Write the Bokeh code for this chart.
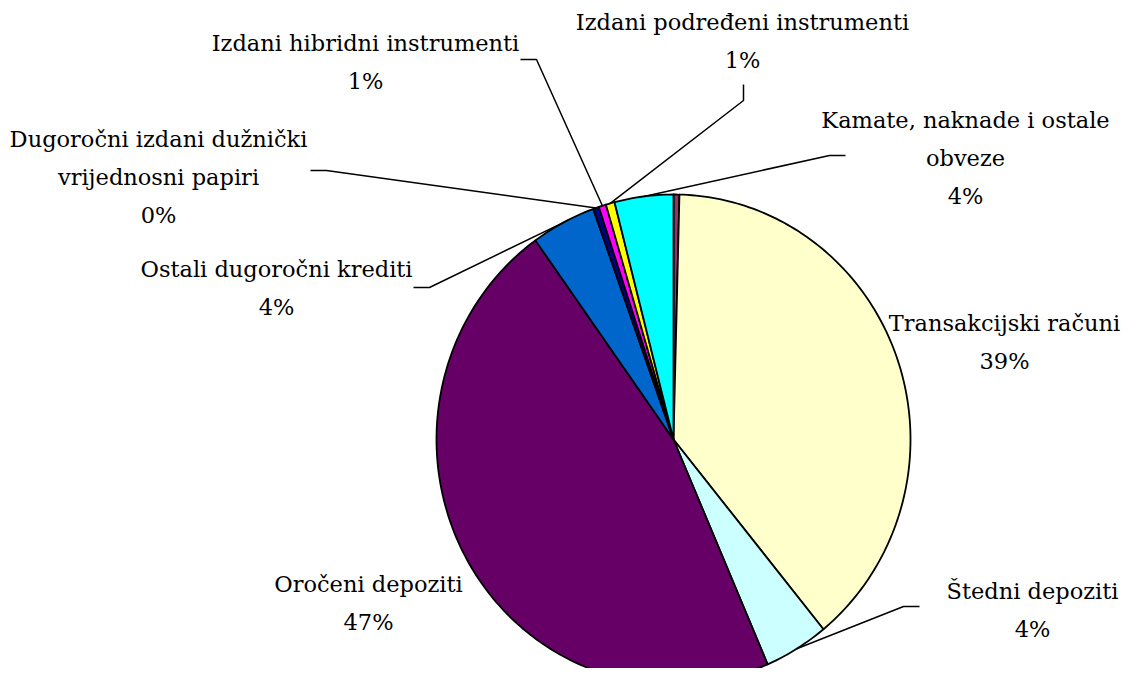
import numpy as np
from bokeh.plotting import figure
from bokeh.models import Range1d, ColumnDataSource
from bokeh.embed import file_html
from bokeh.resources import INLINE
from bokeh.core.properties import value

# ---- data ----
categories = ["",
              "Transakcijski računi",
              "Štedni depoziti",
              "Oročeni depoziti",
              "Ostali dugoročni krediti",
              "Dugoročni izdani dužnički\nvrijednosni papiri",
              "Izdani hibridni instrumenti",
              "Izdani podređeni instrumenti",
              "Kamate, naknade i ostale\nobveze"]
shares = [0.4, 38.7, 4.4, 46.6, 4.4, 0.4, 0.5, 0.6, 4.0]
pct_labels = ["", "39%", "4%", "47%", "4%", "0%", "1%", "1%", "4%"]
colors = ["#993366", "#FFFFCC", "#CCFFFF", "#660066", "#0066CC",
          "#000080", "#FF00FF", "#FFFF00", "#00FFFF"]

# ---- layout (page pixel coordinates, y downward) ----
CX, CY, RX, RY = 673.0, 439.0, 237.0, 245.0
FONT = "DejaVu Serif"
FS = "22.5px"
LINE_H = 38
# label anchor: (center x, first line middle y)
label_pos = {1: (1004, 322), 2: (1032, 590), 3: (368, 583), 4: (276, 268),
             5: (158, 138), 6: (365, 42), 7: (742, 21), 8: (965, 119)}
# leader lines: label-side start and knee points
leader_pts = {2: [(919, 606), (903, 606)],
              4: [(413, 287), (429, 287)],
              5: [(310, 170), (326, 170)],
              6: [(520, 59), (536, 59)],
              7: [(743, 84), (743, 100)],
              8: [(845, 155), (829, 155)]}

p = figure(width=1123, height=668, output_backend="svg", toolbar_location=None,
           x_range=Range1d(0, 1123), y_range=Range1d(668, 0), min_border=0)
p.axis.visible = False
p.grid.visible = False
p.outline_line_color = None
p.background_fill_color = "white"
p.border_fill_color = "white"


def pt(theta):
    return CX + RX * np.sin(theta), CY - RY * np.cos(theta)


total = float(sum(shares))
cum = np.concatenate([[0.0], np.cumsum(shares)]) / total * 2 * np.pi
xs, ys = [], []
for i in range(len(shares)):
    a0, a1 = cum[i], cum[i + 1]
    n = max(4, int(np.degrees(a1 - a0)))
    th = np.linspace(a0, a1, n)
    ex, ey = pt(th)
    xs.append([CX] + list(ex) + [CX])
    ys.append([CY] + list(ey) + [CY])

p.patches(xs, ys, fill_color=colors, line_color="black", line_width=1.8,
          line_join="round")

# leader lines to slice mid-arcs
lx, ly = [], []
for i, pts in leader_pts.items():
    mid = 0.5 * (cum[i] + cum[i + 1])
    mx, my = pt(mid)
    lx.append([q[0] for q in pts] + [mx])
    ly.append([q[1] for q in pts] + [my])
p.multi_line(lx, ly, line_color="black", line_width=1.5)

# labels
tx, ty, tt = [], [], []
for i, (x0, y0) in label_pos.items():
    lines = categories[i].split("\n") + [pct_labels[i]]
    for k, s in enumerate(lines):
        tx.append(x0)
        ty.append(y0 + k * LINE_H)
        tt.append(s)
src = ColumnDataSource(dict(x=tx, y=ty, text=tt))
p.text("x", "y", text="text", source=src, text_font=value(FONT),
       text_font_size=FS, text_align="center", text_baseline="middle",
       text_color="black")

open("out.html", "w").write(file_html(p, INLINE))
